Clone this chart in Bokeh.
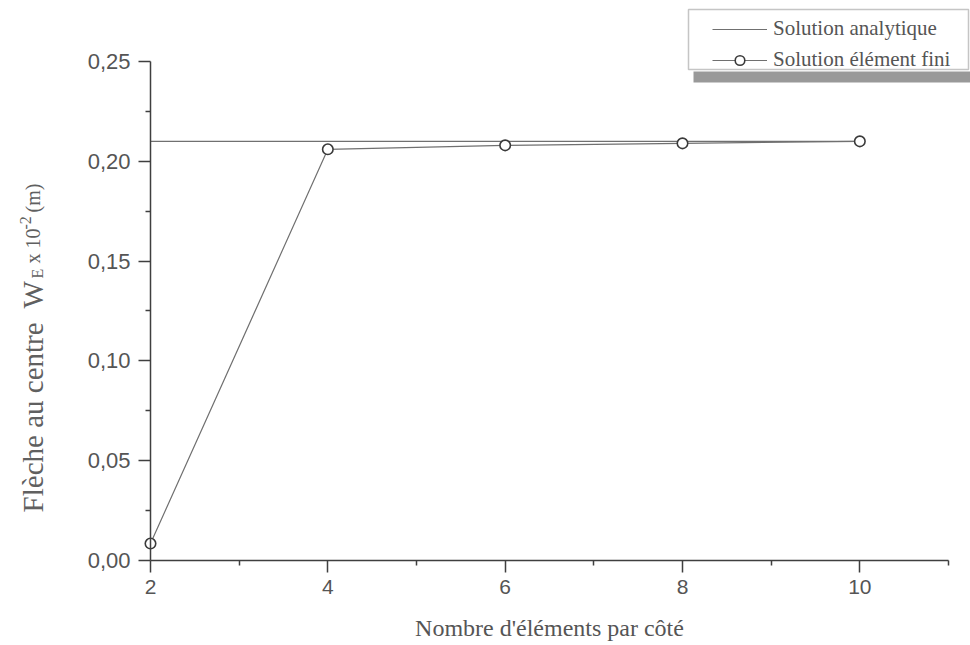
import math
from bokeh.plotting import figure
from bokeh.models import (FixedTicker, CustomJSTickFormatter, Legend, LegendItem,
                          Label, BoxAnnotation, Range1d)
from bokeh.embed import file_html
from bokeh.resources import INLINE

# ---- data ----
n_elements = [2, 4, 6, 8, 10]
analytic = [0.21, 0.21, 0.21, 0.21, 0.21]
fe_solution = [0.0085, 0.206, 0.208, 0.209, 0.21]
x_major = [2, 4, 6, 8, 10]
x_minor = [3, 5, 7, 9, 11]
y_major = [0.0, 0.05, 0.10, 0.15, 0.20, 0.25]
y_minor = [0.025, 0.075, 0.125, 0.175, 0.225]

AXIS = "#3f3f3f"
TXT = "#555555"
SERIF = "Liberation Serif"
SANS = "Liberation Sans"

# frame covers the whole canvas; axes are pinned at x=2 / y=0
p = figure(width=970, height=645, min_border=0, title_location=None,
           x_range=Range1d(0.3083, 11.2481), y_range=Range1d(-0.04259, 0.28056),
           output_backend="svg", toolbar_location=None,
           background_fill_color="white", border_fill_color="white")
p.outline_line_color = None
p.grid.visible = False

for ax in (p.xaxis[0], p.yaxis[0]):
    ax.axis_line_color = AXIS
    ax.axis_line_width = 1.5
    ax.major_tick_line_color = AXIS
    ax.minor_tick_line_color = AXIS
    ax.major_tick_line_width = 1.5
    ax.minor_tick_line_width = 1.5
    ax.major_tick_out = 12
    ax.major_tick_in = 0
    ax.minor_tick_out = 5
    ax.minor_tick_in = 0
    ax.major_label_text_font = SANS
    ax.major_label_text_color = TXT
    ax.major_label_standoff = 8

p.xaxis[0].major_label_text_font_size = "21px"
p.yaxis[0].major_label_text_font_size = "22px"

p.xaxis[0].fixed_location = 0
p.xaxis[0].bounds = (2, 11)
p.yaxis[0].fixed_location = 2
p.yaxis[0].bounds = (0, 0.25)

p.xaxis[0].ticker = FixedTicker(ticks=x_major, minor_ticks=x_minor)
p.yaxis[0].ticker = FixedTicker(ticks=y_major, minor_ticks=y_minor)
p.yaxis[0].formatter = CustomJSTickFormatter(code="return tick.toFixed(2).replace('.', ',');")

p.xaxis[0].axis_label = "Nombre d'éléments par côté"
p.xaxis[0].axis_label_text_font = SERIF
p.xaxis[0].axis_label_text_font_style = "normal"
p.xaxis[0].axis_label_text_font_size = "24px"
p.xaxis[0].axis_label_text_color = TXT
p.xaxis[0].axis_label_standoff = 17

# ---- series ----
r_an = p.line(n_elements, analytic, line_color="#707070", line_width=1.2)
r_fe_line = p.line(n_elements, fe_solution, line_color="#707070", line_width=1.2)
r_fe_pts = p.scatter(n_elements, fe_solution, marker="circle", size=10.5,
                     fill_color="white", line_color="#3a3a3a", line_width=1.6)

# ---- y-axis label pieces (rotated) ----
def lab(text, x, y, size):
    p.add_layout(Label(x=x, y=y, text=text,
                       angle=math.pi / 2, text_font=SERIF, text_font_size=size,
                       text_color="#606060", text_align="left", text_baseline="alphabetic"))

lab("Flèche au centre", 0.6804, 0.0241, "29px")
lab("W", 0.6804, 0.1263, "29px")
lab("E", 0.7200, 0.1413, "16px")
lab("x 10", 0.6804, 0.1488, "20px")
lab("-2", 0.5902, 0.1658, "16px")
lab("(m)", 0.6804, 0.1744, "20px")

# ---- legend (box + shadow drawn separately) ----
p.add_layout(BoxAnnotation(left=693, right=970, top=574, bottom=563,
                           left_units="screen", right_units="screen",
                           top_units="screen", bottom_units="screen",
                           fill_color="#999999", fill_alpha=1.0, line_color=None))
p.add_layout(BoxAnnotation(left=688, right=968, top=636, bottom=576,
                           left_units="screen", right_units="screen",
                           top_units="screen", bottom_units="screen",
                           fill_alpha=0.0, line_color=AXIS, line_width=1.5))

legend = Legend(items=[LegendItem(label="Solution analytique", renderers=[r_an]),
                       LegendItem(label="Solution élément fini", renderers=[r_fe_line, r_fe_pts])],
                location=(707, 568), orientation="vertical",
                padding=5, spacing=6, margin=0,
                glyph_width=55, glyph_height=24, label_height=24, label_standoff=6,
                label_text_font=SERIF, label_text_font_size="21px", label_text_color=TXT,
                border_line_alpha=0, background_fill_alpha=0)
p.add_layout(legend, "center")

open("out.html", "w").write(file_html(p, INLINE))
